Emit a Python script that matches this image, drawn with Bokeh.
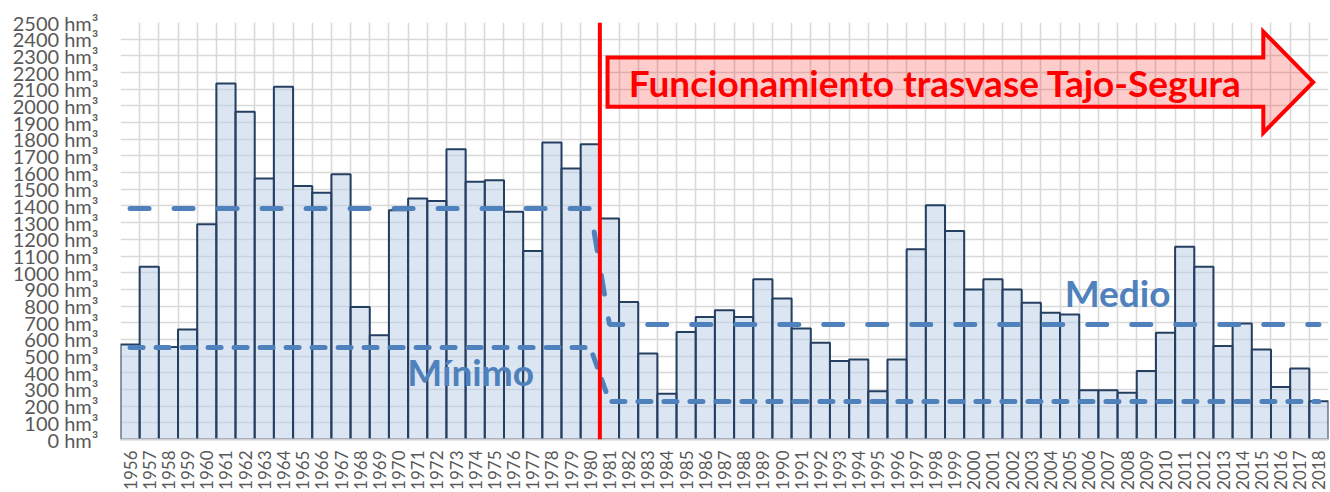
import math
from bokeh.plotting import figure
from bokeh.models import FixedTicker, Span, Label, ColumnDataSource
from bokeh.embed import file_html
from bokeh.resources import INLINE

# ---------------- data ----------------
years = list(range(1956, 2019))
aportaciones = [570, 1035, 555, 660, 1290, 2135, 1965, 1565, 2115, 1520,
                1480, 1590, 795, 625, 1375, 1445, 1430, 1740, 1545, 1555,
                1365, 1130, 1780, 1625, 1770,
                1325, 825, 515, 275, 645, 735, 775, 735, 960, 845,
                665, 580, 470, 480, 290, 480, 1140, 1405, 1250, 900,
                960, 900, 820, 760, 750, 295, 295, 280, 410, 640,
                1155, 1035, 560, 695, 540, 315, 425, 230]
medio_antes, medio_despues = 1385, 690
minimo_antes, minimo_despues = 552, 228
n_antes = 25  # 1956-1980
medio = [medio_antes] * n_antes + [medio_despues] * (len(years) - n_antes)
minimo = [minimo_antes] * n_antes + [minimo_despues] * (len(years) - n_antes)
y_ticks = list(range(0, 2501, 100))
y_tick_labels = {v: f"{v} hm³" for v in y_ticks}
year_labels = {i: str(y) for i, y in enumerate(years)}

FONT = "Lato"
BLUE = "#4f81bd"
GRAY_TXT = "#595959"

idx = list(range(len(years)))

p = figure(width=1330, height=492, x_range=(-0.5, len(years) - 0.5), y_range=(0, 2500),
           output_backend="svg", toolbar_location=None,
           min_border_left=120, min_border_right=2, min_border_top=22, min_border_bottom=52)
p.outline_line_color = None
p.background_fill_color = "white"

# grids
p.xgrid.ticker = FixedTicker(ticks=[i - 0.5 for i in range(len(years) + 1)])
p.ygrid.ticker = FixedTicker(ticks=y_ticks)
for g in (p.xgrid, p.ygrid):
    g.grid_line_color = "#d9d9d9"
    g.grid_line_width = 1.6

# axes
p.yaxis.ticker = FixedTicker(ticks=y_ticks)
p.yaxis.major_label_overrides = y_tick_labels
p.yaxis.major_label_text_font = FONT
p.yaxis.major_label_text_font_size = "20px"
p.yaxis.major_label_text_color = GRAY_TXT
p.yaxis.major_tick_out = 0
p.yaxis.major_tick_in = 0
p.yaxis.minor_tick_out = 0
p.yaxis.minor_tick_in = 0
p.yaxis.axis_line_color = None
p.yaxis.major_label_standoff = 22

p.xaxis.ticker = FixedTicker(ticks=idx)
p.xaxis.major_label_overrides = year_labels
p.xaxis.major_label_orientation = math.pi / 2
p.xaxis.major_label_text_font = FONT
p.xaxis.major_label_text_font_size = "17px"
p.xaxis.major_label_text_color = GRAY_TXT
p.xaxis.major_label_standoff = 11
p.xaxis.axis_line_color = "#d0d0d0"
p.xaxis.axis_line_width = 2
p.xaxis.major_tick_out = 0
p.xaxis.major_tick_in = 0
p.xaxis.minor_tick_out = 0
p.xaxis.minor_tick_in = 0

# bars
src = ColumnDataSource(dict(x=idx, top=aportaciones))
p.vbar(x="x", top="top", width=1.0, bottom=0, source=src,
       fill_color="#b9cde5", fill_alpha=0.5, line_color="#243f60", line_width=2)

# red divider line between 1980 and 1981
p.add_layout(Span(location=n_antes - 0.5, dimension="height", line_color="#ff0000", line_width=4))

# mean / minimum lines
p.line(idx, medio, line_color=BLUE, line_width=5, line_dash="19 25", line_cap="round")
p.line(idx, minimo, line_color=BLUE, line_width=5, line_dash="13 13", line_cap="round")

# arrow annotation
ax = [24.9, 59.1, 59.1, 61.7, 59.1, 59.1, 24.9]
ay = [2290, 2290, 2445, 2142, 1839, 1995, 1995]
p.patch(ax, ay, fill_color="#ff0000", fill_alpha=0.2, line_color="#ff0000", line_width=4,
        line_join="miter")
p.add_layout(Label(x=42.0, y=2142, text="Funcionamiento trasvase Tajo-Segura",
                   text_font=FONT, text_font_style="bold", text_font_size="37px",
                   text_color="#ff0000", text_align="center", text_baseline="middle"))

p.add_layout(Label(x=51.5, y=881, text="Medio", text_font=FONT, text_font_style="bold",
                   text_font_size="37px", text_color=BLUE, text_align="center",
                   text_baseline="middle"))
p.add_layout(Label(x=17.76, y=407, text="Mínimo", text_font=FONT, text_font_style="bold",
                   text_font_size="37px", text_color=BLUE, text_align="center",
                   text_baseline="middle"))

open("out.html", "w").write(file_html(p, INLINE))
